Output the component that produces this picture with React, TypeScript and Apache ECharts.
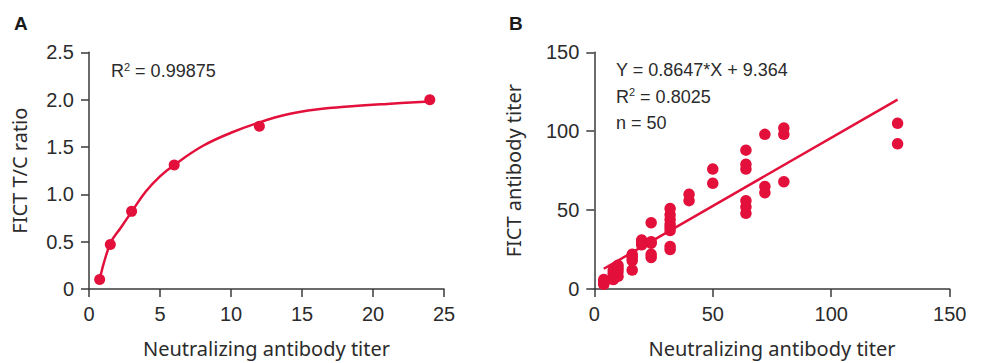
import React, { useEffect, useRef } from "react";
import * as echarts from "echarts";

// Panel A data
const aPointsX = [0.75, 1.5, 3, 6, 12, 24];
const aPointsY = [0.1, 0.47, 0.82, 1.31, 1.72, 2.0];
// Fitted curve
const aCurveX = [0.75, 1.5, 2.25, 3, 4, 5, 6, 8, 10, 12, 14, 16, 18.5, 21, 24];
const aCurveY = [0.1, 0.48, 0.65, 0.815, 1.03, 1.19, 1.31, 1.51, 1.65, 1.76, 1.845, 1.895, 1.93, 1.955, 1.98];
const aXTicks = { min: 0, max: 25, interval: 5 };
const aYTicks = { min: 0, max: 2.5, interval: 0.5 };

// Panel B data
const bX = [
  4, 4, 4, 4,
  8, 8, 8, 8,
  10, 10, 10, 10,
  16, 16, 16, 16,
  20, 20, 20,
  24, 24, 24, 24, 24,
  32, 32, 32, 32, 32, 32, 32, 32,
  40, 40,
  50, 50,
  64, 64, 64, 64, 64, 64,
  72, 72, 72,
  80, 80, 80,
  128, 128,
];
const bY = [
  3, 4, 5, 6,
  6, 8, 10, 12,
  8, 11, 13, 15,
  12, 18, 20, 22,
  28, 30, 31,
  20, 22, 29, 30, 42,
  25, 27, 37, 39, 41, 44, 47, 51,
  56, 60,
  67, 76,
  48, 52, 56, 76, 79, 88,
  61, 65, 98,
  68, 98, 102,
  92, 105,
];
const bFitX = [4, 128];
const bFitY = [12.82, 120.05];
const bXTicks = { min: 0, max: 150, interval: 50 };
const bYTicks = { min: 0, max: 150, interval: 50 };

const RED = "#e2103a";
const AXIS = "#3a3a3a";
const TXT = "#2b2b2b";
const TICKFONT = "Liberation Sans";
const TITLEFONT = "Noto Sans";

function axisCommon() {
  return {
    axisLine: { show: true, lineStyle: { color: AXIS, width: 1.5 } },
    axisTick: { show: true, length: 8, lineStyle: { color: AXIS, width: 1.5 } },
    splitLine: { show: false },
    axisLabel: { color: TXT, fontSize: 20, fontFamily: TICKFONT, margin: 15 },
    nameLocation: "middle" as const,
    nameTextStyle: { color: TXT, fontSize: 20, fontFamily: TITLEFONT },
  };
}

const supRich = {
  s: { fontSize: 11, fontFamily: TICKFONT, fill: TXT, verticalAlign: "top", padding: [0, 0, 9, 0] },
};

export default function App() {
  const ref = useRef<HTMLDivElement>(null);
  useEffect(() => {
    if (!ref.current) return;
    const chart = echarts.init(ref.current, null, { renderer: "svg" });
    const c = axisCommon();
    chart.setOption({
      animation: false,
      backgroundColor: "#ffffff",
      grid: [
        { left: 89, top: 52.3, width: 355, height: 237.4 },
        { left: 594.3, top: 52.3, width: 355.4, height: 237.4 },
      ],
      xAxis: [
        {
          ...c,
          gridIndex: 0,
          type: "value",
          ...aXTicks,
          name: "Neutralizing antibody titer",
          nameGap: 49,
        },
        {
          ...c,
          gridIndex: 1,
          type: "value",
          ...bXTicks,
          name: "Neutralizing antibody titer",
          nameGap: 49,
        },
      ],
      yAxis: [
        {
          ...c,
          gridIndex: 0,
          type: "value",
          ...aYTicks,
          axisLabel: {
            ...c.axisLabel,
            formatter: (v: number) => (v === 0 ? "0" : v.toFixed(1)),
          },
          name: "FICT T/C ratio",
          nameGap: 60,
        },
        {
          ...c,
          gridIndex: 1,
          type: "value",
          ...bYTicks,
          name: "FICT antibody titer",
          nameGap: 71,
        },
      ],
      series: [
        {
          type: "line",
          xAxisIndex: 0,
          yAxisIndex: 0,
          data: aCurveX.map((x, i) => [x, aCurveY[i]]),
          smooth: 0.4,
          symbol: "none",
          lineStyle: { color: RED, width: 2.5 },
          z: 2,
        },
        {
          type: "scatter",
          xAxisIndex: 0,
          yAxisIndex: 0,
          data: aPointsX.map((x, i) => [x, aPointsY[i]]),
          symbolSize: 11,
          itemStyle: { color: RED, opacity: 1 },
          z: 3,
        },
        {
          type: "line",
          xAxisIndex: 1,
          yAxisIndex: 1,
          data: bFitX.map((x, i) => [x, bFitY[i]]),
          symbol: "none",
          lineStyle: { color: RED, width: 2.5 },
          z: 2,
        },
        {
          type: "scatter",
          xAxisIndex: 1,
          yAxisIndex: 1,
          data: bX.map((x, i) => [x, bY[i]]),
          symbolSize: 11.5,
          itemStyle: { color: RED, opacity: 1 },
          z: 3,
        },
      ],
      graphic: [
        {
          type: "text",
          left: 14,
          top: 14,
          style: { text: "A", font: "bold 19px 'Liberation Sans'", fill: "#1a1a1a" },
        },
        {
          type: "text",
          left: 509,
          top: 14,
          style: { text: "B", font: "bold 19px 'Liberation Sans'", fill: "#1a1a1a" },
        },
        {
          type: "text",
          x: 111,
          y: 71,
          style: {
            text: "R{s|2} = 0.99875",
            fontSize: 18,
            fontFamily: TICKFONT,
            fill: TXT,
            verticalAlign: "middle",
            rich: supRich,
          },
        },
        {
          type: "text",
          x: 616,
          y: 70,
          style: { text: "Y = 0.8647*X + 9.364", fontSize: 18, fontFamily: TICKFONT, fill: TXT, verticalAlign: "middle" },
        },
        {
          type: "text",
          x: 616,
          y: 96.5,
          style: {
            text: "R{s|2} = 0.8025",
            fontSize: 18,
            fontFamily: TICKFONT,
            fill: TXT,
            verticalAlign: "middle",
            rich: supRich,
          },
        },
        {
          type: "text",
          x: 616,
          y: 123,
          style: { text: "n = 50", fontSize: 18, fontFamily: TICKFONT, fill: TXT, verticalAlign: "middle" },
        },
      ],
    });
    return () => chart.dispose();
  }, []);
  return (
    <div
      ref={ref}
      style={{ position: "fixed", left: 0, top: 0, width: 984, height: 363, background: "#fff" }}
    />
  );
}
